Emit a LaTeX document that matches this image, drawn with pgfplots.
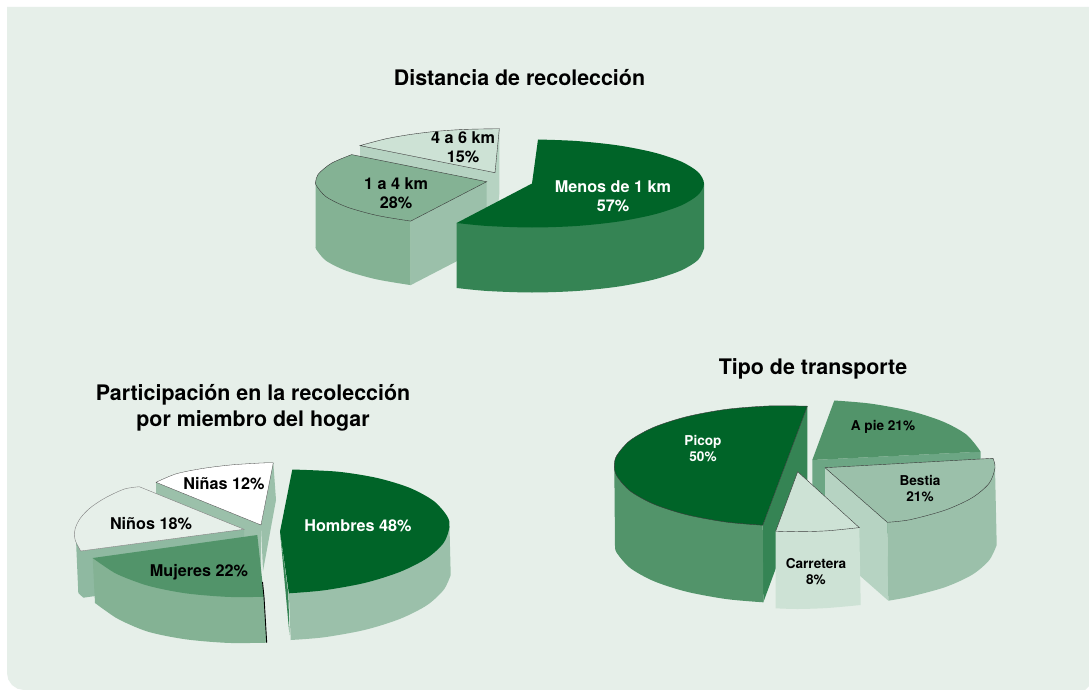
\documentclass[border=0pt]{standalone}
\usepackage{fontspec}
\setmainfont{TeX Gyre Heros}
\usepackage{pgfplots}
\pgfplotsset{compat=1.18}
\definecolor{panel}{HTML}{E6EFE9}
\definecolor{gDark}{HTML}{006428}
\definecolor{gSide}{HTML}{358454}
\definecolor{gMed}{HTML}{52946A}
\definecolor{gBand}{HTML}{6CA684}
\definecolor{gMid}{HTML}{84B294}
\definecolor{gSoft}{HTML}{8FB9A1}
\definecolor{gLite}{HTML}{9BC0AA}
\definecolor{gPale}{HTML}{B6D3C2}
\definecolor{gFog}{HTML}{CDE2D5}
\definecolor{edge}{HTML}{3A3A3A}
\tikzset{
  ttl/.style={anchor=base,font=\bfseries\fontsize{21.4}{24}\selectfont},
  big/.style={anchor=base,font=\bfseries\fontsize{16.2}{18}\selectfont},
  small/.style={anchor=base,font=\bfseries\fontsize{13.6}{15}\selectfont},
}
\begin{document}
\begin{tikzpicture}
\begin{axis}[
    scale only axis,
    width=1089pt,
    height=690pt,
    xmin=0, xmax=1089,
    ymin=0, ymax=690,
    y dir=reverse,
    hide axis,
]
% full page, so that the bounding box is the whole picture
\addplot[fill=white,draw=none] coordinates {(0,0) (1089,0) (1089,690) (0,690)} -- cycle;
% panel
\addplot[fill=panel,draw=none] coordinates {(7,7) (1089,7) (1089,686) (1085,690) (24,690) (17.5,688.7) (12,685) (8.3,679.5) (7,673)} -- cycle;

% ---- Distancia de recoleccion
% 4 a 6 km
\addplot[fill=gPale,draw=none] coordinates {(360,145.6) (495,172.7) (495,237.7) (360,210.6)} -- cycle;
\addplot[fill=gPale,draw=none] coordinates {(499.3,128.7) (495,172.7) (495,237.7) (499.3,193.7)} -- cycle;
\addplot[smooth,fill=gFog,draw=edge,line width=0.4pt] coordinates {(360,145.6) (385,139) (409.5,134.6) (436.5,131.3) (465.3,129.4) (499.3,128.7)} -- (axis cs:495,172.7) -- cycle;
% 1 a 4 km
\addplot[fill=gLite,draw=none] coordinates {(410.7,221.1) (486.7,181.7) (486.7,245.7) (410.7,285.1)} -- cycle;
\addplot[smooth,fill=gMid,draw=none] coordinates {(315.7,247) (316.3,249.5) (326,260.7) (346.6,270.9) (376.8,279.4) (410.7,285.1)} -- (axis cs:410.7,221.1) -- (axis cs:315.7,181.7) -- cycle;
\addplot[smooth,fill=gMid,draw=edge,line width=0.4pt] coordinates {(410.7,221.1) (376.8,215.4) (346.6,206.9) (326,196.7) (316.3,185.5) (315.7,181.7) (318.3,174) (331.7,163.1) (351.7,154.6)} -- (axis cs:486.7,181.7) -- cycle;
% Menos de 1 km
\addplot[smooth,fill=gSide,draw=none] coordinates {(456.6,288) (487.5,291) (532,292.5) (576.5,291) (618,286.6) (653.6,279.6) (681,270.5) (698.1,259.9) (704,248.5)} -- (axis cs:704,183.5) -- (axis cs:456.6,223) -- cycle;
\addplot[smooth,fill=gDark,draw=none] coordinates {(538,139.5) (576.5,141) (618,145.4) (653.6,152.4) (681,161.5) (698.1,172.1) (704,183.5) (698.1,194.9) (681,205.5) (653.6,214.6) (618,221.6) (576.5,226) (532,227.5) (487.5,226) (456.6,223)} -- (axis cs:532,183.5) -- cycle;

% ---- Participacion
% Ninas
\addplot[fill=gLite,draw=none] coordinates {(156,482.3) (261,525) (261,571) (156,528.3)} -- cycle;
\addplot[fill=gLite,draw=none] coordinates {(273.3,462.7) (276,500) (263,571) (261,525)} -- cycle;
\addplot[smooth,fill=white,draw=edge,line width=0.3pt] coordinates {(156,482.3) (176.3,473.8) (203,468.4) (231.5,464.9) (261,463) (273.3,462.7)} -- (axis cs:261,525) -- cycle;
% Ninos
\addplot[fill=gSoft,draw=none] coordinates {(80.7,551) (244,529.3) (244,575.3) (83.3,597.7) (78.3,593) (76,540) (75.1,539.8)} -- cycle;
\addplot[smooth,fill=panel,draw=gray,line width=0.4pt] coordinates {(80.7,551) (75.1,539.8) (75.1,529) (80.3,518.2) (90.4,507.7) (105.2,497.9) (124.2,489.1) (139.3,486.7)} -- (axis cs:244,529.3) -- cycle;
% Mujeres
\addplot[smooth,fill=gMid,draw=none] coordinates {(95,603) (106,611) (120,620) (148.3,631.8) (185.6,639.3) (227.9,642.9) (266.7,642.7)} -- (axis cs:264,596.8) -- (axis cs:92.7,558) -- cycle;
\addplot[smooth,fill=gMed,draw=none] coordinates {(264,596.8) (227.9,596.9) (185.6,593.3) (148.3,585.8) (118.5,574.8) (103.7,565.8) (92.7,558)} -- (axis cs:257.3,535) -- cycle;
\addplot[draw=black,line width=0.9pt] coordinates {(262.5,582) (264,596.8) (266.7,642.7)};
% Hombres
\addplot[fill=gSide,draw=none] coordinates {(280,531.7) (288.3,593.3) (289.5,635)} -- cycle;
\addplot[smooth,fill=gLite,draw=none] coordinates {(290.7,640) (323.9,637.3) (364.8,629.9) (399.9,618.9) (426.8,605.3) (443.7,589.8) (450.7,575)} -- (axis cs:449.5,526.6) -- (axis cs:288.9,593.3) -- cycle;
\addplot[smooth,fill=gDark,draw=none] coordinates {(292.3,469.5) (338,471.7) (377.3,478) (409.8,487.9) (433.6,500.9) (447,515.9) (449.5,526.6) (443.7,542.8) (426.8,558.3) (399.9,571.9) (364.8,582.9) (323.9,590.3) (288.9,593.3)} -- (axis cs:280,531.7) -- cycle;

% ---- Tipo de transporte
% A pie
\addplot[fill=gBand,draw=none] coordinates {(812.3,460) (980.7,451.7) (980.7,528.7) (812.3,537)} -- cycle;
\addplot[smooth,fill=gMed,draw=none] coordinates {(834.3,400.5) (870.4,403.6) (909.8,410.9) (942.5,421.4) (966.4,434.6) (980.7,451.7)} -- (axis cs:812.3,460) -- cycle;
% Picop
\addplot[fill=gSide,draw=none] coordinates {(807.3,406.2) (762.7,525.2) (763.3,602.3) (807.3,483)} -- cycle;
\addplot[smooth,fill=gMed,draw=none] coordinates {(615,546.7) (616.9,553.1) (630.3,568.1) (654.2,581.3) (687,591.8) (726.6,599.1) (763.3,602.3)} -- (axis cs:762.7,525.2) -- (axis cs:614.3,465.7) -- cycle;
\addplot[smooth,fill=gDark,draw=edge,line width=0.4pt] coordinates {(807.3,406.2) (770.1,405.9) (726.6,409.3) (687,416.6) (654.2,427.1) (630.3,440.3) (616.9,455.3) (614.3,465.7) (616.9,476.1) (630.3,491.1) (654.2,504.3) (687,514.8) (726.6,522.1) (762.7,525.2)} -- cycle;
% Bestia
\addplot[fill=gPale,draw=none] coordinates {(825,467.7) (887.3,522.3) (888.3,600.7) (825,545)} -- cycle;
\addplot[smooth,fill=gLite,draw=none] coordinates {(888.3,600.7) (910,596.7) (945.2,587.1) (972.2,574.7) (989.2,560.2) (996.7,545)} -- (axis cs:995,467.7) -- (axis cs:887.3,522.3) -- cycle;
\addplot[smooth,fill=gLite,draw=edge,line width=0.4pt] coordinates {(993,458.3) (995,467.7) (989.2,483.2) (972.2,497.7) (945.2,510.1) (910,519.7) (887.3,522.3)} -- (axis cs:825,467.7) -- cycle;
% Carretera
\addplot[smooth,fill=gFog,draw=none] coordinates {(775.7,608.3) (797.7,609) (827.2,608) (860.7,605)} -- (axis cs:859.3,527.6) -- (axis cs:775.7,531.2) -- cycle;
\addplot[smooth,fill=gFog,draw=edge,line width=0.4pt] coordinates {(775.7,531.2) (797.7,531.7) (827.2,530.8) (859.3,527.6)} -- (axis cs:797.7,471.7) -- cycle;

% ---- titles and labels
\node[ttl] at (axis cs:519.5,85.5) {Distancia de recolección};
\node[ttl] at (axis cs:253,400) {Participación en la recolección};
\node[ttl] at (axis cs:253,426) {por miembro del hogar};
\node[ttl] at (axis cs:813,374) {Tipo de transporte};

\node[big,white] at (axis cs:613,192.5) {Menos de 1 km};
\node[big,white] at (axis cs:613,211) {57\%};
\node[big] at (axis cs:396,189) {1 a 4 km};
\node[big] at (axis cs:396,208) {28\%};
\node[big] at (axis cs:463,143) {4 a 6 km};
\node[big] at (axis cs:463,162) {15\%};

\node[big,white] at (axis cs:358,531) {Hombres 48\%};
\node[big] at (axis cs:199,576) {Mujeres 22\%};
\node[big] at (axis cs:151,529) {Niños 18\%};
\node[big] at (axis cs:224,489) {Niñas 12\%};

\node[small,white] at (axis cs:703,445) {Picop};
\node[small,white] at (axis cs:703,461) {50\%};
\node[small] at (axis cs:883,430) {A pie 21\%};
\node[small] at (axis cs:920,485) {Bestia};
\node[small] at (axis cs:920,501) {21\%};
\node[small] at (axis cs:816,568) {Carretera};
\node[small] at (axis cs:816,584) {8\%};
\end{axis}
\end{tikzpicture}
\end{document}
